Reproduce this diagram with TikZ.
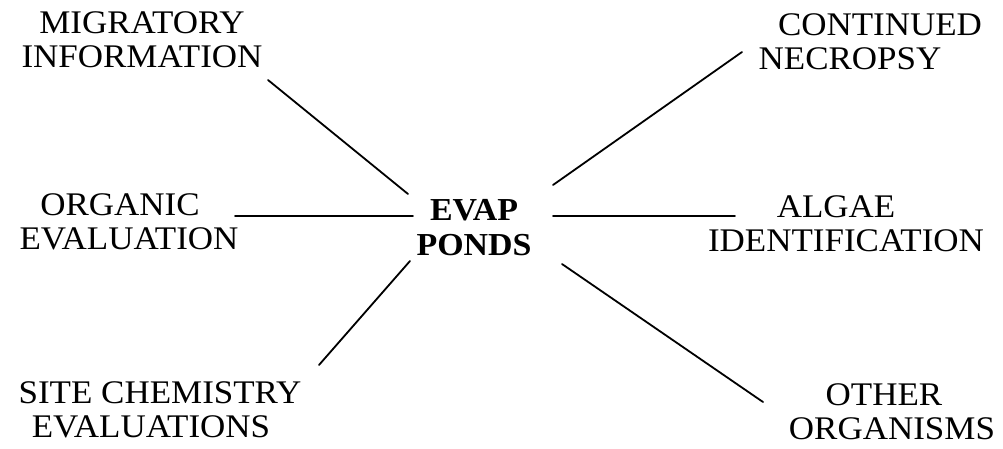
\documentclass[tikz,border=0pt]{standalone}
\usepackage{fontspec}
\setmainfont[FakeStretch=1.06]{Liberation Serif}
\begin{document}
\begin{tikzpicture}[x=1pt,y=-1pt,
  lbl/.style={align=center,inner sep=0pt,font=\fontsize{33}{34}\selectfont},
  hub/.style={align=center,inner sep=0pt,font=\fontsize{32}{35}\selectfont\bfseries},
  link/.style={line width=1.8pt,line cap=round}]
\useasboundingbox (0,0) rectangle (1003,449);
% labels
\node[hub] (evap) at (474,228) {EVAP\\PONDS};
\node[lbl] (mig) at (142,40) {MIGRATORY\\INFORMATION};
\node[lbl] (org) at (129,222) {ORGANIC\hspace*{18pt}\\EVALUATION};
\node[lbl] (site) at (160,410) {SITE CHEMISTRY\\EVALUATIONS\hspace*{18pt}};
\node[lbl] (cont) at (880,42) {CONTINUED\\NECROPSY\hspace*{60pt}};
\node[lbl] (alg) at (846,224) {ALGAE\hspace*{20pt}\\IDENTIFICATION};
\node[lbl] (oth) at (892,412) {OTHER\hspace*{16pt}\\ORGANISMS};
% connector end points
\coordinate (tl1) at (268,80);  \coordinate (tl2) at (408,194);
\coordinate (l1)  at (235,216); \coordinate (l2)  at (413,216);
\coordinate (bl1) at (319,365); \coordinate (bl2) at (410,261);
\coordinate (tr1) at (553,185); \coordinate (tr2) at (742,52);
\coordinate (r1)  at (553,216); \coordinate (r2)  at (735,216);
\coordinate (br1) at (562,264); \coordinate (br2) at (763,402);
% connectors
\draw[link] (tl1) -- (tl2);
\draw[link] (l1) -- (l2);
\draw[link] (bl2) -- (bl1);
\draw[link] (tr1) -- (tr2);
\draw[link] (r1) -- (r2);
\draw[link] (br1) -- (br2);
\end{tikzpicture}
\end{document}
